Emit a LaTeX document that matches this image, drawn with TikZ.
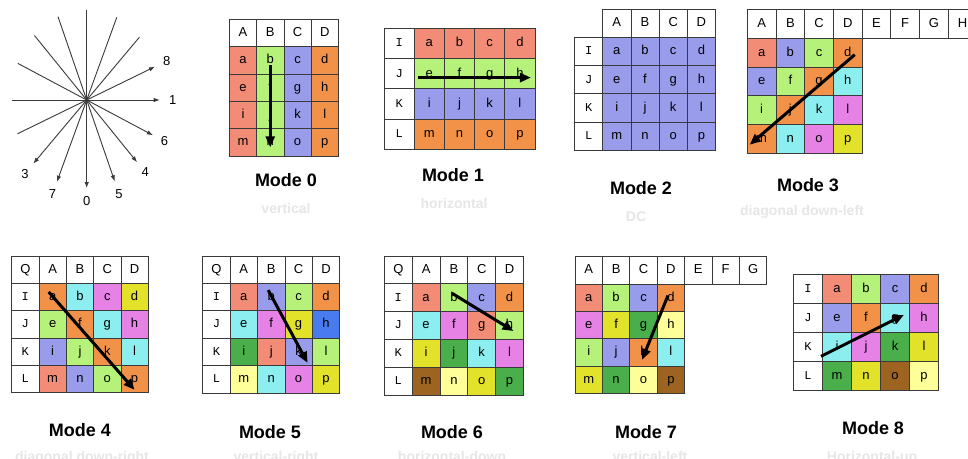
\documentclass[tikz,border=0pt]{standalone}
\usepackage{fontspec}
\setmainfont{Liberation Sans}
\newfontfamily\labfont{Liberation Mono}
\usepackage{tikz}
\usetikzlibrary{calc,arrows.meta}
\definecolor{edge}{HTML}{3A3A3A}
\definecolor{sal}{HTML}{F28C76}
\definecolor{lgr}{HTML}{B6F27A}
\definecolor{blu}{HTML}{999BEB}
\definecolor{org}{HTML}{F29248}
\definecolor{cya}{HTML}{8CEEEE}
\definecolor{mag}{HTML}{E681E6}
\definecolor{yel}{HTML}{E2E22A}
\definecolor{bbl}{HTML}{4A7BEE}
\definecolor{dgr}{HTML}{4AAE4A}
\definecolor{lye}{HTML}{FFFF99}
\definecolor{brn}{HTML}{9C6420}
\definecolor{fade}{HTML}{E6E6E6}
\newcommand{\Cell}{\fontsize{13}{15}\selectfont}
\newcommand{\Title}{\fontsize{18}{21}\selectfont\bfseries}
\newcommand{\Sub}{\fontsize{14}{16}\selectfont\bfseries}
% samples a..p: name, left, top, cell, fills
\newcommand{\Blocks}[5]{%
  \foreach \c [count=\k from 0] in {#5}{
    \pgfmathsetmacro{\smp}{{"a","b","c","d","e","f","g","h","i","j","k","l","m","n","o","p"}[\k]}
    \pgfmathtruncatemacro{\cx}{mod(\k,4)}
    \pgfmathtruncatemacro{\cy}{div(\k,4)}
    \node[cell, fill=\c, minimum size=#4pt] (#1-\smp) at (#2+\cx*#4+#4/2, #3+\cy*#4+#4/2) {\smp};}}
% neighbours above
\newcommand{\Heads}[5]{%
  \foreach \h [count=\k from 0] in {#5}{
    \node[cell, fill=white, minimum size=#4pt] (#1-\h) at (#2+\k*#4+#4/2, #3+#4/2) {\h};}}
% neighbours left
\newcommand{\Rows}[5]{%
  \foreach \h [count=\k from 0] in {#5}{
    \node[cell, fill=white, minimum size=#4pt, font=\labfont\fontsize{12}{14}\selectfont] (#1-\h) at (#2+#4/2, #3+\k*#4+#4/2) {\h};}}

\begin{document}
\begin{tikzpicture}[x=1pt,y=-1pt, font=\Cell,
    cell/.style={draw=edge, line width=0.8pt, inner sep=0pt, text height=9.5pt, text depth=2.6pt},
    ray/.style={draw=edge, line width=0.9pt, -{Latex[length=6pt,width=4.5pt]}},
    scan/.style={black, line width=3pt, -{Triangle[length=11pt,width=9pt]}},
    modetitle/.style={font=\Title},
    modenote/.style={font=\Sub, text=fade}]
  \fill[white] (0,0) rectangle (968,458);
  \useasboundingbox (0,0) rectangle (968,458);

  % directions
  \coordinate (o) at (86.7,100);
  \foreach \n/\a/\tip/\back in {0/90/88/90, 1/0/73/75, 8/-26/76/77, 6/28/75/78, 4/51/80/83, 5/71/86/88, 3/130/83/82, 7/110/87/88}{
    \coordinate (tip\n) at ($(o)+(\a:\tip)$);
    \coordinate (end\n) at ($(o)+(\a+180:\back)$);
    \draw[ray] (end\n) -- (tip\n);
    \node (lab\n) at ($(o)+(\a:\tip+13)$) {\n};}

  % Mode 0
  \Heads{m0}{229.3}{19.4}{27.3}{A,B,C,D}
  \Blocks{m0}{229.3}{46.7}{27.3}{sal,lgr,blu,org,sal,lgr,blu,org,sal,lgr,blu,org,sal,lgr,blu,org}
  \draw[scan] ($(m0-b)+(0,5)$) -- ($(m0-n)+(0,5)$);
  \node[modetitle] (t0) at (286,180) {Mode 0};
  \node[modenote] (s0) at (286,208) {vertical};

  % Mode 1
  \Rows{m1}{384}{28.3}{30.2}{I,J,K,L}
  \Blocks{m1}{414.2}{28.3}{30.2}{sal,sal,sal,sal,lgr,lgr,lgr,lgr,blu,blu,blu,blu,org,org,org,org}
  \draw[scan] ($(m1-e)+(-11,4)$) -- ($(m1-h)+(11,4)$);
  \node[modetitle] (t1) at (453,175) {Mode 1};
  \node[modenote] (s1) at (454,203) {horizontal};

  % Mode 2
  \Heads{m2}{602.7}{9.1}{28.2}{A,B,C,D}
  \Rows{m2}{574.5}{37.3}{28.2}{I,J,K,L}
  \Blocks{m2}{602.7}{37.3}{28.2}{blu,blu,blu,blu,blu,blu,blu,blu,blu,blu,blu,blu,blu,blu,blu,blu}
  \node[modetitle] (t2) at (641,188) {Mode 2};
  \node[modenote] (s2) at (636,217) {DC};

  % Mode 3
  \Heads{m3}{747.3}{9.6}{28.7}{A,B,C,D,E,F,G,H}
  \Blocks{m3}{747.3}{38.3}{28.7}{sal,blu,lgr,org,blu,lgr,org,cya,lgr,org,cya,mag,org,cya,mag,yel}
  \draw[scan] ($(m3-d)+(7,2)$) -- ($(m3-m)+(-12,6)$);
  \node[modetitle] (t3) at (808,185) {Mode 3};
  \node[modenote] (s3) at (802,212) {diagonal down-left};

  % Mode 4
  \Heads{m4}{11.7}{256}{27.3}{Q,A,B,C,D}
  \Rows{m4}{11.7}{283.3}{27.3}{I,J,K,L}
  \Blocks{m4}{39}{283.3}{27.3}{org,cya,mag,yel,lgr,org,cya,mag,blu,lgr,org,cya,sal,blu,lgr,org}
  \draw[scan] ($(m4-a)+(-4,-5)$) -- ($(m4-p)+(0,11)$);
  \node[modetitle] (t4) at (80,430) {Mode 4};
  \node[modenote, anchor=base] (s4) at (82,461) {diagonal down-right};

  % Mode 5
  \Heads{m5}{202.7}{256}{27.4}{Q,A,B,C,D}
  \Rows{m5}{202.7}{283.4}{27.4}{I,J,K,L}
  \Blocks{m5}{230.1}{283.4}{27.4}{sal,blu,lgr,org,cya,mag,yel,bbl,dgr,sal,blu,lgr,lye,cya,mag,yel}
  \draw[scan] ($(m5-b)+(-3,-7)$) -- ($(m5-k)+(9,11)$);
  \node[modetitle] (t5) at (270,432) {Mode 5};
  \node[modenote, anchor=base] (s5) at (276,461) {vertical-right};

  % Mode 6
  \Heads{m6}{384.4}{256}{27.8}{Q,A,B,C,D}
  \Rows{m6}{384.4}{283.8}{27.8}{I,J,K,L}
  \Blocks{m6}{412.2}{283.8}{27.8}{sal,lgr,blu,org,cya,mag,sal,lgr,yel,dgr,cya,mag,brn,lye,yel,dgr}
  \draw[scan] ($(m6-b)+(-2,-4.5)$) -- ($(m6-h)+(4,5.5)$);
  \node[modetitle] (t6) at (452,432) {Mode 6};
  \node[modenote, anchor=base] (s6) at (452,461) {horizontal-down};

  % Mode 7
  \Heads{m7}{575}{256.5}{27.4}{A,B,C,D,E,F,G}
  \Blocks{m7}{575}{283.9}{27.4}{sal,lgr,blu,org,mag,yel,dgr,lye,lgr,blu,org,cya,yel,dgr,lye,brn}
  \draw[scan] ($(m7-d)+(-3,-2)$) -- ($(m7-k)+(-1.5,7.5)$);
  \node[modetitle] (t7) at (646,432) {Mode 7};
  \node[modenote, anchor=base] (s7) at (650,461) {vertical-left};

  % Mode 8
  \Rows{m8}{793.5}{274.3}{29}{I,J,K,L}
  \Blocks{m8}{822.5}{274.3}{29}{sal,lgr,blu,org,blu,org,cya,mag,cya,mag,dgr,yel,dgr,yel,brn,lye}
  \draw[scan] ($(m8-i)+(-16,9.5)$) -- ($(m8-g)+(9,-3)$);
  \node[modetitle] (t8) at (873,428) {Mode 8};
  \node[modenote, anchor=base] (s8) at (872,461) {Horizontal-up};
\end{tikzpicture}
\end{document}
